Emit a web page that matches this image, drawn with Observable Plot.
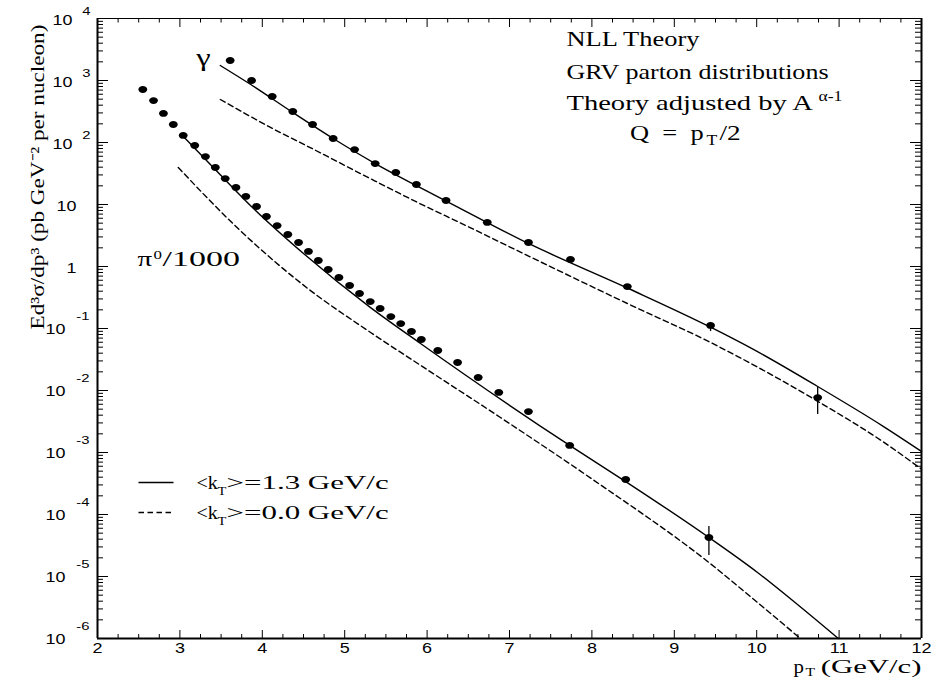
<!DOCTYPE html>
<html><head><meta charset="utf-8">
<script src="https://cdn.jsdelivr.net/npm/d3@7"></script>
<script src="https://cdn.jsdelivr.net/npm/@observablehq/plot@0.6"></script>
<style>html,body{margin:0;padding:0;background:#fff;}#chart svg{display:block;}</style>
</head><body><div id="chart"></div>
<script>
// ---------------- data ----------------
// direct photons
const gammaPt   = [3.61, 3.87, 4.12, 4.37, 4.61, 4.86, 5.12, 5.37, 5.62, 5.87, 6.23, 6.73, 7.23, 7.74, 8.43, 9.44, 10.74];
const gammaXsec = [2100, 1000, 552, 316, 195, 116, 77, 45.8, 32.8, 21.0, 11.6, 5.13, 2.44, 1.30, 0.475, 0.112, 0.0077];
const gammaErrPt   = [9.44, 10.74];
const gammaErrLow  = [0.0895, 0.0041];
const gammaErrHigh = [0.125, 0.0112];
// pi0 / 1000
const pi0Pt   = [2.55, 2.68, 2.80, 2.92, 3.04, 3.18, 3.31, 3.43, 3.55, 3.68, 3.80, 3.93, 4.05, 4.18, 4.31, 4.44, 4.56, 4.68, 4.80, 4.93, 5.06, 5.18, 5.31, 5.43, 5.56, 5.68, 5.81, 5.93, 6.13, 6.37, 6.62, 6.87, 7.23, 7.73, 8.41, 9.42];
const pi0Xsec = [716, 475, 294, 195, 130, 89.5, 59.4, 39.5, 26.2, 18.8, 13.5, 9.29, 6.40, 4.58, 3.28, 2.44, 1.75, 1.25, 0.895, 0.665, 0.494, 0.367, 0.272, 0.210, 0.156, 0.120, 0.0895, 0.0665, 0.0442, 0.0283, 0.0162, 0.0093, 0.00458, 0.0013, 0.000367, 0.0000426];
const pi0ErrPt   = [9.42];
const pi0ErrLow  = [0.0000218];
const pi0ErrHigh = [0.000064];
// NLL theory curves
const gammaKt13Pt = [3.49, 3.86, 4.37, 4.86, 5.37, 5.87, 6.22, 7.23, 8.43, 9.44, 9.96, 10.74, 11.54, 12.0];
const gammaKt13   = [1746, 861, 305, 116, 45.8, 20.2, 11.6, 2.35, 0.45, 0.105, 0.046, 0.0116, 0.00262, 0.00104];
const gammaKt0Pt  = [3.49, 4.10, 4.65, 5.31, 5.86, 6.47, 7.29, 8.43, 9.44, 10.74, 11.54, 12.0];
const gammaKt0    = [494, 175, 74.3, 26.2, 11.2, 4.58, 1.35, 0.253, 0.0595, 0.0067, 0.00147, 0.00054];
const pi0Kt13Pt = [3.03, 3.49, 3.89, 4.50, 5.31, 5.92, 7.73, 8.41, 9.42, 10.01, 10.51, 10.99];
const pi0Kt13   = [130, 30.2, 8.7, 1.62, 0.219, 0.0573, 0.0013, 0.00034, 0.0000426, 0.0000116, 0.0000034, 0.000001];
const pi0Kt0Pt  = [2.98, 3.70, 4.50, 5.31, 5.92, 6.89, 8.01, 9.42, 10.01, 10.53];
const pi0Kt0    = [39.5, 4.17, 0.50, 0.087, 0.0255, 0.00367, 0.000367, 0.0000168, 0.00000381, 0.000001];
// tick labels
const xTickValues = [2, 3, 4, 5, 6, 7, 8, 9, 10, 11, 12];
const xTickLabels = ["2", "3", "4", "5", "6", "7", "8", "9", "10", "11", "12"];
const yTickPowers = [4, 3, 2, 1, 0, -1, -2, -3, -4, -5, -6];
const yTickBase   = ["10", "10", "10", "10", "1", "10", "10", "10", "10", "10", "10"];
const yTickExp    = ["4", "3", "2", "", "", "-1", "-2", "-3", "-4", "-5", "-6"];
// legend
const legendValues = ["1.3", "0.0"];
const legendDash   = [null, "5.5,3.5"];

// ---------------- layout ----------------
const W = 933, H = 677, ML = 97, MR = 12, MT = 18, MB = 39;
const X0 = 2, X1 = 12, Y0 = 1e-6, Y1 = 1e4;
const pxPerGeV = (W - ML - MR) / (X1 - X0);
const pxPerDec = (H - MT - MB) / Math.log10(Y1 / Y0);
const gx = px => X0 + (px - ML) / pxPerGeV;              // pixel -> pT (layout helper)
const gy = py => Math.pow(10, Math.log10(Y1) - (py - MT) / pxPerDec);
const lenX = px => px / pxPerGeV;
const facY = px => Math.pow(10, px / pxPerDec);
const SERIF = "'Liberation Serif','Times New Roman',serif";
const SANS = "'Liberation Sans',Arial,sans-serif";

const zipXY = (xs, ys) => xs.map((x, i) => ({x, y: ys[i]}));
const errRows = (xs, lo, hi) => xs.map((x, i) => ({x, lo: lo[i], hi: hi[i]}));

const xMinor = d3.range(9, 48).map(i => i / 4).filter(v => v % 1 !== 0);
const yMajor = yTickPowers.map(p => Math.pow(10, p));
const yMinor = d3.range(-6, 4).flatMap(k => d3.range(2, 10).map(m => m * Math.pow(10, k)));
const yRows = yTickPowers.map((p, i) => ({v: Math.pow(10, p), base: yTickBase[i], exp: yTickExp[i]}));

const ellipse = {draw(ctx) {
  const rx = 4.4, ry = 3.4, k = 0.5523;
  ctx.moveTo(rx, 0);
  ctx.bezierCurveTo(rx, ry * k, rx * k, ry, 0, ry);
  ctx.bezierCurveTo(-rx * k, ry, -rx, ry * k, -rx, 0);
  ctx.bezierCurveTo(-rx, -ry * k, -rx * k, -ry, 0, -ry);
  ctx.bezierCurveTo(rx * k, -ry, rx, -ry * k, rx, 0);
  ctx.closePath();
}};

const T = (text, x, y, opts, sx) => Plot.text([0], {
  x: typeof x === "number" ? () => x : undefined,
  y: typeof y === "number" ? () => y : undefined,
  text: () => text, fill: "#000", ariaDescription: "sx" + sx, ...opts
});

const lineStyle = {stroke: "#000", strokeWidth: 1.4, curve: "monotone-x"};
const dashStyle = {...lineStyle, strokeDasharray: "5.5,3.5"};

const marks = [
  // axis ticks
  Plot.ruleY(yMajor, {y: d => d, x1: X0, x2: X0 + lenX(11), stroke: "#000"}),
  Plot.ruleY(yMinor, {y: d => d, x1: X0, x2: X0 + lenX(6), stroke: "#000"}),
  Plot.ruleY(yMajor, {y: d => d, x1: X1 - lenX(11), x2: X1, stroke: "#000"}),
  Plot.ruleY(yMinor, {y: d => d, x1: X1 - lenX(6), x2: X1, stroke: "#000"}),
  Plot.ruleX(xTickValues, {x: d => d, y1: Y0, y2: Y0 * facY(8), stroke: "#000"}),
  Plot.ruleX(xMinor, {x: d => d, y1: Y0, y2: Y0 * facY(4), stroke: "#000"}),
  Plot.ruleX(xTickValues, {x: d => d, y1: Y1, y2: Y1 / facY(9), stroke: "#000"}),
  Plot.ruleX(xMinor, {x: d => d, y1: Y1, y2: Y1 / facY(4.5), stroke: "#000"}),
  // frame
  Plot.ruleX([X0, X1], {x: d => d, stroke: "#000", strokeWidth: 2}),
  Plot.ruleY([Y0], {y: d => d, stroke: "#000", strokeWidth: 2}),
  Plot.ruleY([Y1], {y: d => d, stroke: "#000", strokeWidth: 1.2}),
  // theory
  Plot.line(zipXY(gammaKt13Pt, gammaKt13), {x: "x", y: "y", ...lineStyle}),
  Plot.line(zipXY(gammaKt0Pt, gammaKt0), {x: "x", y: "y", ...dashStyle}),
  Plot.line(zipXY(pi0Kt13Pt, pi0Kt13), {x: "x", y: "y", ...lineStyle}),
  Plot.line(zipXY(pi0Kt0Pt, pi0Kt0), {x: "x", y: "y", ...dashStyle}),
  // data
  Plot.ruleX(errRows(gammaErrPt, gammaErrLow, gammaErrHigh), {x: "x", y1: "lo", y2: "hi", stroke: "#000", strokeWidth: 1.3}),
  Plot.ruleX(errRows(pi0ErrPt, pi0ErrLow, pi0ErrHigh), {x: "x", y1: "lo", y2: "hi", stroke: "#000", strokeWidth: 1.3}),
  Plot.dot(zipXY(gammaPt, gammaXsec), {x: "x", y: "y", r: 4, symbol: ellipse, fill: "#000", stroke: "none"}),
  Plot.dot(zipXY(pi0Pt, pi0Xsec), {x: "x", y: "y", r: 4, symbol: ellipse, fill: "#000", stroke: "none"}),
  // x tick labels
  Plot.text(xTickValues, {x: d => d, text: (d, i) => xTickLabels[i], frameAnchor: "bottom", lineAnchor: "top", dy: 4,
    fontFamily: SANS, fontSize: 15, fill: "#000", ariaDescription: "sx1.2"}),
  // y tick labels
  Plot.text(yRows.filter(r => r.exp === ""), {y: "v", text: "base", frameAnchor: "left", textAnchor: "end", lineAnchor: "middle",
    dx: -21, dy: 2, fontFamily: SANS, fontSize: 14, fill: "#000", ariaDescription: "sx1.28"}),
  Plot.text(yRows.filter(r => r.exp !== "" && !r.exp.startsWith("-")), {y: "v", text: "base", frameAnchor: "left", textAnchor: "end", lineAnchor: "middle",
    dx: -25, dy: 2, fontFamily: SANS, fontSize: 14, fill: "#000", ariaDescription: "sx1.28"}),
  Plot.text(yRows.filter(r => r.exp !== "" && !r.exp.startsWith("-")), {y: "v", text: "exp", frameAnchor: "left", textAnchor: "end", lineAnchor: "middle",
    dx: -7, dy: -7, fontFamily: SANS, fontSize: 11, fill: "#000", ariaDescription: "sx1.35"}),
  Plot.text(yRows.filter(r => r.exp.startsWith("-")), {y: "v", text: "base", frameAnchor: "left", textAnchor: "end", lineAnchor: "middle",
    dx: -32, dy: 1, fontFamily: SANS, fontSize: 14, fill: "#000", ariaDescription: "sx1.28"}),
  Plot.text(yRows.filter(r => r.exp.startsWith("-")), {y: "v", text: "exp", frameAnchor: "left", textAnchor: "end", lineAnchor: "middle",
    dx: -8, dy: -12, fontFamily: SANS, fontSize: 11, fill: "#000", ariaDescription: "sx1.35"}),
  // axis titles
  T("Ed³σ/dp³ (pb GeV⁻² per nucleon)", null, gy(176.5), {frameAnchor: "left", rotate: -90, textAnchor: "middle", lineAnchor: "bottom",
    dx: -54, fontFamily: SERIF, fontSize: 19}, 1.22),
  T("p", gx(793), null, {frameAnchor: "bottom", textAnchor: "start", lineAnchor: "bottom", dy: 34, fontFamily: SERIF, fontSize: 19}, 1.1),
  T("T", gx(805), null, {frameAnchor: "bottom", textAnchor: "start", lineAnchor: "bottom", dy: 37, fontFamily: SERIF, fontSize: 12}, 1.3),
  T("(GeV/c)", X1, null, {frameAnchor: "bottom", textAnchor: "end", lineAnchor: "bottom", dy: 34, fontFamily: SERIF, fontSize: 19}, 1.62),
  // annotations
  T("NLL Theory", gx(566), gy(45.7), {textAnchor: "start", lineAnchor: "bottom", fontFamily: SERIF, fontSize: 21}, 1.26),
  T("GRV parton distributions", gx(566), gy(78), {textAnchor: "start", lineAnchor: "bottom", fontFamily: SERIF, fontSize: 21}, 1.24),
  T("Theory adjusted by A", gx(566), gy(109), {textAnchor: "start", lineAnchor: "bottom", fontFamily: SERIF, fontSize: 21}, 1.36),
  T("α-1", gx(818), gy(100), {textAnchor: "start", lineAnchor: "bottom", fontFamily: SERIF, fontSize: 14}, 1.26),
  T("Q\u00a0\u00a0=\u00a0\u00a0p", gx(629.5), gy(139), {textAnchor: "start", lineAnchor: "bottom", fontFamily: SERIF, fontSize: 21}, 1.26),
  T("T", gx(706), gy(144), {textAnchor: "start", lineAnchor: "bottom", fontFamily: SERIF, fontSize: 14}, 1.26),
  T("/2", gx(719), gy(139), {textAnchor: "start", lineAnchor: "bottom", fontFamily: SERIF, fontSize: 21}, 1.3),
  T("γ", gx(203), gy(65), {textAnchor: "middle", lineAnchor: "bottom", fontFamily: SERIF, fontSize: 26}, 1.25),
  T("π", gx(137), gy(265), {textAnchor: "start", lineAnchor: "bottom", fontFamily: SERIF, fontSize: 20}, 1.45),
  T("0", gx(153), gy(258), {textAnchor: "start", lineAnchor: "bottom", fontFamily: SERIF, fontSize: 13}, 1.3),
  T("/1000", gx(162), gy(265), {textAnchor: "start", lineAnchor: "bottom", fontFamily: SERIF, fontSize: 20}, 1.7)
];

// legend
legendValues.forEach((v, i) => {
  const yl = gy(482 + 30 * i), yt = gy(488 + 30 * i), ys = gy(494 + 30 * i);
  marks.push(
    Plot.link([0], {x1: () => gx(138), x2: () => gx(173), y1: () => yl, y2: () => yl, stroke: "#000", strokeWidth: 1.4,
      strokeDasharray: legendDash[i]}),
    T("<k", gx(196), yt, {textAnchor: "start", lineAnchor: "bottom", fontFamily: SERIF, fontSize: 19}, 1.05),
    T("T", gx(217), ys, {textAnchor: "start", lineAnchor: "bottom", fontFamily: SERIF, fontSize: 12}, 1.2),
    T(">=" + v + " GeV/c", gx(226), yt, {textAnchor: "start", lineAnchor: "bottom", fontFamily: SERIF, fontSize: 19}, 1.63)
  );
});

const svg = Plot.plot({
  width: W, height: H,
  marginLeft: ML, marginRight: MR, marginTop: MT, marginBottom: MB,
  x: {domain: [X0, X1], axis: null},
  y: {type: "log", domain: [Y0, Y1], axis: null},
  style: {background: "#fff", color: "#000"},
  marks
});

// horizontal stretch of the wide original lettering
svg.querySelectorAll("g[aria-description^='sx']").forEach(g => {
  const k = parseFloat(g.getAttribute("aria-description").slice(2));
  g.querySelectorAll("text").forEach(t => {
    const tr = t.getAttribute("transform");
    if (tr) {
      t.setAttribute("transform", tr + ` scale(${k},1)`);
    } else {
      const x = parseFloat(t.getAttribute("x") || "0");
      t.setAttribute("x", "0");
      t.setAttribute("transform", `translate(${x},0) scale(${k},1)`);
    }
  });
});

document.getElementById("chart").appendChild(svg);
</script>
</body></html>
